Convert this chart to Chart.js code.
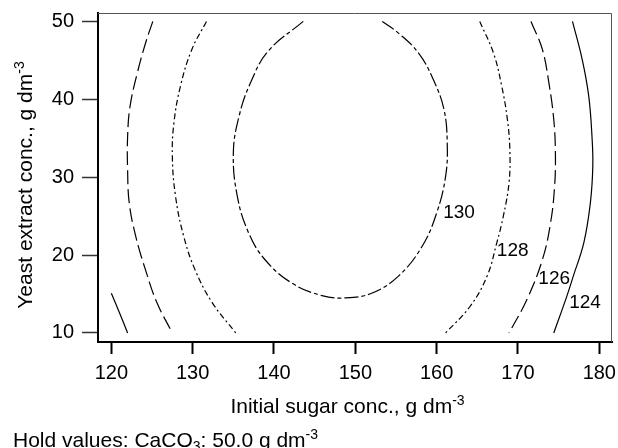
<!DOCTYPE html>
<html>
<head>
<meta charset="utf-8">
<script src="https://cdn.jsdelivr.net/npm/chart.js@4.4.1/dist/chart.umd.min.js"></script>
<style>
  html, body { margin: 0; padding: 0; background: #fff; }
  #wrap { width: 618px; height: 448px; }
</style>
</head>
<body>
<div id="wrap"><canvas id="contourChart" width="618" height="448"></canvas></div>
<script>
// tick values
const xTicks = [120, 130, 140, 150, 160, 170, 180];
const yTicks = [10, 20, 30, 40, 50];

// contour 130 (closed at the bottom, open at the top)
const sugar130 = [143.6, 139.3, 137.1, 135.7, 135.0, 135.5, 136.9, 138.9, 142.2, 145.9, 148.8, 152.0, 155.3, 158.2, 160.0, 161.1, 161.3, 160.9, 159.6, 157.8, 155.3, 153.3];
const yeast130 = [50.0, 46.2, 42.1, 37.8, 33.1, 27.5, 22.8, 19.4, 16.4, 14.8, 14.5, 15.1, 17.3, 21.1, 25.4, 30.1, 34.4, 38.7, 42.5, 45.9, 48.5, 50.0];

// contour 128 left / right
const sugar128a = [131.7, 129.9, 128.5, 127.7, 127.5, 127.9, 128.9, 130.3, 132.4, 135.3];
const yeast128a = [50.0, 46.4, 41.7, 37.0, 32.7, 27.5, 22.4, 18.1, 13.9, 10.0];
const sugar128b = [165.3, 167.0, 168.0, 168.7, 169.0, 168.9, 168.2, 167.4, 166.2, 164.1, 161.1];
const yeast128b = [50.0, 45.9, 41.7, 37.4, 33.5, 29.3, 25.0, 21.6, 17.3, 13.4, 10.0];

// contour 126 left / right
const sugar126a = [125.1, 124.2, 123.2, 122.3, 122.0, 122.0, 122.2, 123.0, 124.2, 125.6, 127.5];
const yeast126a = [50.0, 47.2, 43.4, 39.1, 35.2, 31.0, 26.7, 22.4, 18.1, 13.9, 10.0];
const sugar126b = [171.6, 173.0, 173.8, 174.4, 174.6, 174.5, 174.0, 173.0, 171.1, 168.9];
const yeast126b = [50.0, 46.4, 42.1, 37.4, 33.1, 28.8, 24.1, 19.4, 14.3, 10.0];

// contour 124 left corner / right
const sugar124a = [120.0, 121.0, 122.0];
const yeast124a = [15.1, 12.6, 10.0];
const sugar124b = [176.7, 177.9, 178.7, 179.1, 179.2, 178.9, 178.1, 176.8, 176.0, 174.4];
const yeast124b = [50.0, 45.1, 40.4, 35.2, 31.4, 26.7, 21.6, 17.3, 14.7, 10.0];

// contour labels
const labelText = ['130', '128', '126', '124'];
const labelSugar = [160.8, 167.4, 172.5, 176.3];
const labelYeast = [25.4, 20.6, 17.0, 13.85];

const FONT = "'Liberation Sans', Arial, Helvetica, sans-serif";

function pts(xs, ys) {
  return xs.map((x, i) => ({ x: x, y: ys[i] }));
}

function contour(xs, ys, dash) {
  return {
    data: pts(xs, ys),
    showLine: true,
    borderColor: '#000',
    borderWidth: 1.2,
    borderDash: dash,
    pointRadius: 0,
    fill: false,
    tension: 0.4
  };
}

const dash130 = [14, 3, 4, 3];
const dash128 = [6, 3, 2, 3];
const dash126 = [14, 5];

const datasets = [
  contour(sugar130, yeast130, dash130),
  contour(sugar128a, yeast128a, dash128),
  contour(sugar128b, yeast128b, dash128),
  contour(sugar126a, yeast126a, dash126),
  contour(sugar126b, yeast126b, dash126),
  contour(sugar124a, yeast124a, []),
  contour(sugar124b, yeast124b, [])
];

// text with a raised / lowered small part
function drawParts(c, parts, x, y) {
  parts.forEach(p => {
    c.font = (p.small ? '14px ' : '21px ') + FONT;
    c.fillText(p.t, x, y + (p.dy || 0));
    x += c.measureText(p.t).width;
  });
}
function partsWidth(c, parts) {
  let w = 0;
  parts.forEach(p => {
    c.font = (p.small ? '14px ' : '21px ') + FONT;
    w += c.measureText(p.t).width;
  });
  return w;
}

const extrasPlugin = {
  id: 'extras',
  afterDatasetsDraw(chart) {
    const c = chart.ctx;
    const a = chart.chartArea;
    const xs = chart.scales.x, ys = chart.scales.y;
    c.save();
    // thin frame on top and right
    c.strokeStyle = '#555';
    c.lineWidth = 1;
    c.beginPath();
    c.moveTo(a.left, a.top + 0.5);
    c.lineTo(a.right - 0.5, a.top + 0.5);
    c.lineTo(a.right - 0.5, a.bottom);
    c.stroke();

    // contour level labels
    c.fillStyle = '#000';
    c.font = '19px ' + FONT;
    c.textAlign = 'left';
    c.textBaseline = 'middle';
    labelText.forEach((t, i) => {
      c.fillText(t, xs.getPixelForValue(labelSugar[i]), ys.getPixelForValue(labelYeast[i]));
    });

    c.textBaseline = 'alphabetic';
    // x title
    const xt = [{ t: 'Initial sugar conc., g dm' }, { t: '-3', small: true, dy: -8 }];
    drawParts(c, xt, 347.5 - partsWidth(c, xt) / 2, 412.5);

    // y title, rotated
    const yt = [{ t: 'Yeast extract conc., g dm' }, { t: '-3', small: true, dy: -8 }];
    c.save();
    c.translate(32, 185);
    c.rotate(-Math.PI / 2);
    drawParts(c, yt, -partsWidth(c, yt) / 2, 0);
    c.restore();

    // hold values footnote
    drawParts(c, [
      { t: 'Hold values: CaCO' },
      { t: '3', small: true, dy: 4 },
      { t: ': 50.0 g dm' },
      { t: '-3', small: true, dy: -8 }
    ], 13, 446.5);
    c.restore();
  }
};

const ctx = document.getElementById('contourChart').getContext('2d');
const chart = new Chart(ctx, {
  type: 'scatter',
  data: { datasets: datasets },
  options: {
    responsive: false,
    animation: false,
    layout: { padding: { top: 13, right: 6, left: 0, bottom: 0 } },
    plugins: {
      legend: { display: false },
      tooltip: { enabled: false }
    },
    scales: {
      x: {
        type: 'linear',
        min: 118.36,
        max: 181.56,
        afterBuildTicks: s => { s.ticks = xTicks.map(v => ({ value: v })); },
        afterFit: s => { s.height = 106; s.paddingLeft = 0; s.paddingRight = 0; },
        ticks: { font: { family: FONT, size: 20 }, color: '#000', padding: 7, maxRotation: 0, autoSkip: false },
        grid: { drawOnChartArea: false, tickLength: 12, tickWidth: 2, tickColor: '#000' },
        border: { display: true, width: 2, color: '#000' }
      },
      y: {
        type: 'linear',
        min: 8.84,
        max: 51.08,
        afterBuildTicks: s => { s.ticks = yTicks.map(v => ({ value: v })); },
        afterFit: s => { s.width = 98; s.paddingTop = 0; s.paddingBottom = 0; },
        ticks: { font: { family: FONT, size: 20 }, color: '#000', padding: 8, autoSkip: false },
        grid: { drawOnChartArea: false, tickLength: 16, tickWidth: 1.5, tickColor: '#333' },
        border: { display: true, width: 2, color: '#000' }
      }
    }
  },
  plugins: [extrasPlugin]
});
</script>
</body>
</html>
